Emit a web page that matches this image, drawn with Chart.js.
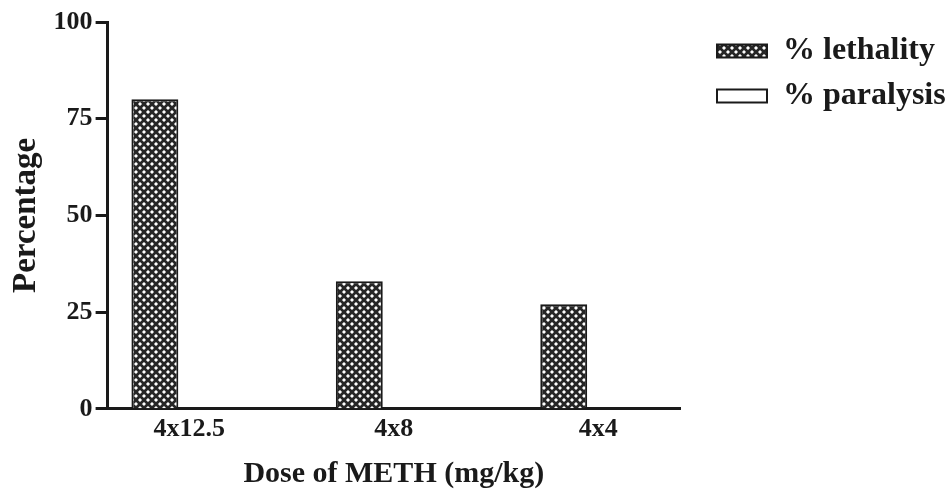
<!doctype html>
<html>
  <head>
    <meta charset="utf-8" />
    <title>Lethality and paralysis by METH dose</title>
    <script src="https://cdn.jsdelivr.net/npm/chart.js@4.4.1/dist/chart.umd.min.js"></script>
    <style>
      html, body { margin: 0; padding: 0; background: #fff; }
      #chart { display: block; }
    </style>
  </head>
  <body>
    <canvas id="chart" width="947" height="492"></canvas>
    <script>
      const categories = ['4x12.5', '4x8', '4x4'];
      const lethality = [80, 33, 27];
      const paralysis = [0, 0, 0];
      const yTicks = [0, 25, 50, 75, 100];

      // crosshatch fill like the original print
      function hatch() {
        const c = document.createElement('canvas');
        c.width = 8; c.height = 8;
        const g = c.getContext('2d');
        g.fillStyle = '#fff';
        g.fillRect(0, 0, 8, 8);
        g.strokeStyle = '#262626';
        g.lineWidth = 2.8;
        g.beginPath();
        g.moveTo(-2, -2); g.lineTo(10, 10);
        g.moveTo(-2, 10); g.lineTo(10, -2);
        g.stroke();
        return g.createPattern(c, 'repeat');
      }

      const toPoints = (vals) => vals.map((v, i) => ({ x: i + 1, y: v }));
      const serif = '"Liberation Serif", "Times New Roman", serif';
      const ink = '#1a1a1a';

      new Chart(document.getElementById('chart'), {
        type: 'bar',
        data: {
          datasets: [
            {
              label: '% lethality',
              data: toPoints(lethality),
              backgroundColor: hatch(),
              borderColor: ink,
              borderWidth: 2,
              categoryPercentage: 0.675,
              barPercentage: 0.68,
            },
            {
              label: '% paralysis',
              data: toPoints(paralysis),
              backgroundColor: '#fff',
              borderColor: ink,
              borderWidth: 2,
              categoryPercentage: 0.675,
              barPercentage: 0.68,
            },
          ],
        },
        options: {
          responsive: false,
          animation: false,
          layout: { padding: { top: 22, right: 0, left: 7, bottom: 0 } },
          plugins: {
            tooltip: { enabled: false },
            legend: {
              position: 'right',
              align: 'start',
              maxWidth: 243,
              labels: {
                color: ink,
                font: { family: serif, size: 32, weight: 'bold' },
                boxWidth: 50,
                boxHeight: 13,
                padding: 13,
              },
            },
          },
          scales: {
            x: {
              type: 'linear',
              min: 0.6,
              max: 3.4,
              offset: false,
              border: { color: ink, width: 3 },
              grid: { display: true, drawOnChartArea: false, drawTicks: false, offset: false },
              afterBuildTicks: (s) => { s.ticks = categories.map((c, i) => ({ value: i + 1 })); },
              ticks: {
                padding: 5,
                color: ink,
                font: { family: serif, size: 26, weight: 'bold' },
                callback: (v) => categories[v - 1] ?? '',
              },
              title: {
                display: true,
                text: 'Dose of METH (mg/kg)',
                color: ink,
                font: { family: serif, size: 30, weight: 'bold' },
                padding: { top: 6, bottom: 0 },
              },
            },
            y: {
              min: 0,
              max: 100,
              border: { color: ink, width: 3 },
              grid: { drawOnChartArea: false, tickLength: 12, tickWidth: 3, tickColor: ink },
              afterBuildTicks: (s) => { s.ticks = yTicks.map((v) => ({ value: v })); },
              ticks: {
                padding: 3,
                color: ink,
                font: { family: serif, size: 26, weight: 'bold' },
              },
              title: {
                display: true,
                text: 'Percentage',
                color: ink,
                font: { family: serif, size: 33, weight: 'bold' },
                padding: { top: 0, bottom: 4 },
              },
            },
            // empty spacer between the plot and the legend
            gap: {
              type: 'linear',
              position: 'right',
              display: true,
              border: { display: false },
              grid: { display: false },
              ticks: { display: false },
              afterFit: (s) => { s.width = 24; },
            },
          },
        },
      });
    </script>
  </body>
</html>
